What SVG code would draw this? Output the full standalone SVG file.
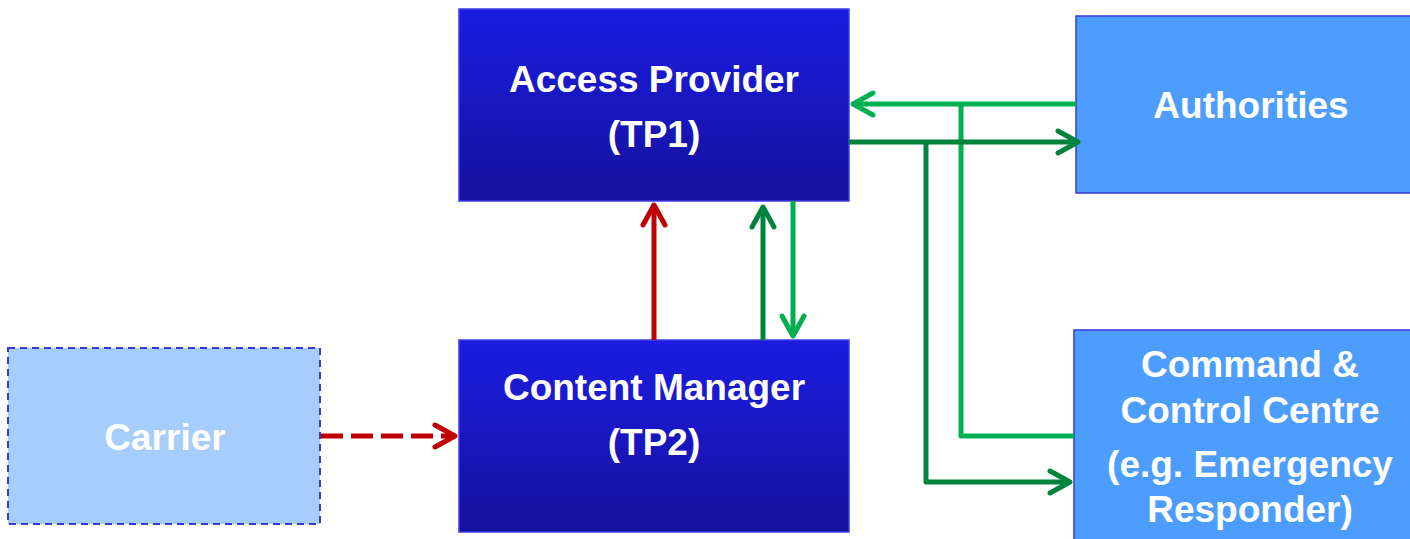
<svg xmlns="http://www.w3.org/2000/svg" width="1410" height="539" viewBox="0 0 1410 539">
<style>
.lbl{font-family:"Liberation Sans",Arial,sans-serif;font-weight:bold;font-size:37px;fill:#ffffff;text-anchor:middle}
.dark{fill:url(#gd);stroke:#3c3ce6;stroke-width:1.5}
.light{fill:#4d9dff;stroke:#3a3ad6;stroke-width:1.5}
.carrier{fill:#a6cdfc;stroke:#3a3ad0;stroke-width:2;stroke-dasharray:7 5}
.ln{fill:none;stroke-width:5;stroke-linecap:butt;stroke-linejoin:round}
.red{stroke:#c00000}
.dg{stroke:#00843d}
.lg{stroke:#00b050}
</style>
<defs>
<linearGradient id="gd" x1="0" y1="0" x2="0" y2="1">
<stop offset="0" stop-color="#1c1ce2"/>
<stop offset="1" stop-color="#14129c"/>
</linearGradient>
<marker id="mr" markerUnits="userSpaceOnUse" viewBox="-26 -16 30 32" refX="0" refY="0" markerWidth="30" markerHeight="32" orient="auto" overflow="visible">
<path d="M-20,-11 L0,0 L-20,11" fill="none" stroke="#c00000" stroke-width="5" stroke-linecap="round" stroke-linejoin="round"/>
</marker>
<marker id="mdg" markerUnits="userSpaceOnUse" viewBox="-26 -16 30 32" refX="0" refY="0" markerWidth="30" markerHeight="32" orient="auto" overflow="visible">
<path d="M-20,-11 L0,0 L-20,11" fill="none" stroke="#00843d" stroke-width="5" stroke-linecap="round" stroke-linejoin="round"/>
</marker>
<marker id="mlg" markerUnits="userSpaceOnUse" viewBox="-26 -16 30 32" refX="0" refY="0" markerWidth="30" markerHeight="32" orient="auto" overflow="visible">
<path d="M-20,-11 L0,0 L-20,11" fill="none" stroke="#00b050" stroke-width="5" stroke-linecap="round" stroke-linejoin="round"/>
</marker>
</defs>
<rect width="1410" height="539" fill="#ffffff"/>
<g id="access-provider">
<rect class="dark" x="459" y="9" width="390" height="192"/>
<text class="lbl" x="654" y="92">Access Provider</text>
<text class="lbl" x="654" y="147">(TP1)</text>
</g>
<g id="content-manager">
<rect class="dark" x="459" y="340" width="390" height="192"/>
<text class="lbl" x="654" y="400">Content Manager</text>
<text class="lbl" x="654" y="455">(TP2)</text>
</g>
<g id="authorities">
<rect class="light" x="1076" y="16" width="350" height="177"/>
<text class="lbl" x="1251" y="118">Authorities</text>
</g>
<g id="command-control">
<rect class="light" x="1074" y="330" width="352" height="220"/>
<text class="lbl" x="1250" y="377">Command &amp;</text>
<text class="lbl" x="1250" y="423">Control Centre</text>
<text class="lbl" x="1250" y="477">(e.g. Emergency</text>
<text class="lbl" x="1250" y="522">Responder)</text>
</g>
<g id="carrier">
<rect class="carrier" x="8" y="348" width="312" height="176"/>
<text class="lbl" x="165" y="450">Carrier</text>
</g>
<g id="connectors">
<path class="ln red" d="M654,340 L654,205" marker-end="url(#mr)"/>
<path class="ln dg" d="M763,340 L763,207" marker-end="url(#mdg)"/>
<path class="ln lg" d="M793,201 L793,336" marker-end="url(#mlg)"/>
<path class="ln red" d="M321,436 L455,436" stroke-dasharray="22 8" marker-end="url(#mr)"/>
<path class="ln lg" d="M1076,104 L853,104" marker-end="url(#mlg)"/>
<path class="ln lg" d="M961,104 L961,436 L1074,436"/>
<path class="ln dg" d="M849,142 L1078,142" marker-end="url(#mdg)"/>
<path class="ln dg" d="M926,142 L926,482 L1070,482" marker-end="url(#mdg)"/>
</g>
</svg>
